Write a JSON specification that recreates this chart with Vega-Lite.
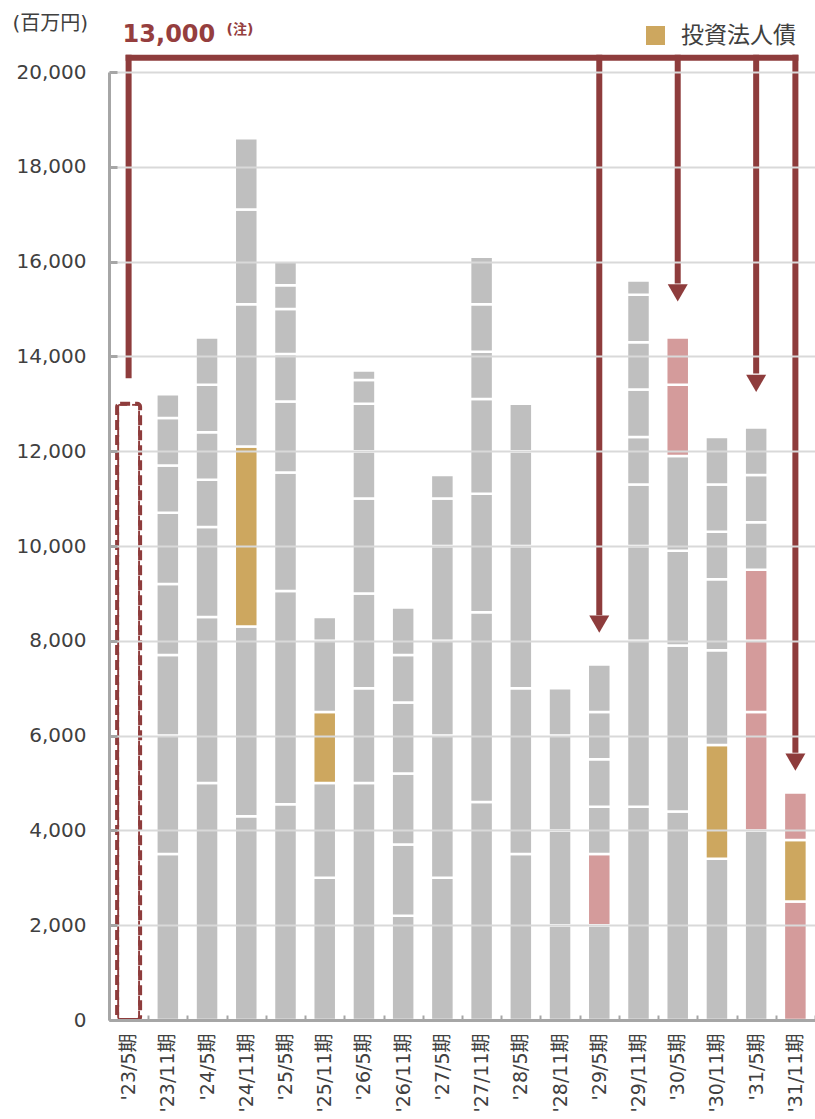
{
  "$schema": "https://vega.github.io/schema/vega-lite/v6.json",
  "width": 706,
  "height": 948,
  "autosize": {"type": "none"},
  "padding": {"left": 109, "top": 72, "right": 0, "bottom": 99},
  "background": "white",
  "config": {
    "view": {"stroke": null},
    "font": "DejaVu Sans, Noto Sans CJK JP"
  },
  "datasets": {
    "segments": [
      {"period": "'23/11期", "amount": 3500, "type": "借入金", "order": 1},
      {"period": "'23/11期", "amount": 2500, "type": "借入金", "order": 2},
      {"period": "'23/11期", "amount": 1700, "type": "借入金", "order": 3},
      {"period": "'23/11期", "amount": 1500, "type": "借入金", "order": 4},
      {"period": "'23/11期", "amount": 1500, "type": "借入金", "order": 5},
      {"period": "'23/11期", "amount": 1000, "type": "借入金", "order": 6},
      {"period": "'23/11期", "amount": 1000, "type": "借入金", "order": 7},
      {"period": "'23/11期", "amount": 500, "type": "借入金", "order": 8},
      {"period": "'24/5期", "amount": 5000, "type": "借入金", "order": 1},
      {"period": "'24/5期", "amount": 3500, "type": "借入金", "order": 2},
      {"period": "'24/5期", "amount": 1900, "type": "借入金", "order": 3},
      {"period": "'24/5期", "amount": 1000, "type": "借入金", "order": 4},
      {"period": "'24/5期", "amount": 1000, "type": "借入金", "order": 5},
      {"period": "'24/5期", "amount": 1000, "type": "借入金", "order": 6},
      {"period": "'24/5期", "amount": 1000, "type": "借入金", "order": 7},
      {"period": "'24/11期", "amount": 4300, "type": "借入金", "order": 1},
      {"period": "'24/11期", "amount": 4000, "type": "借入金", "order": 2},
      {"period": "'24/11期", "amount": 3800, "type": "投資法人債", "order": 3},
      {"period": "'24/11期", "amount": 3000, "type": "借入金", "order": 4},
      {"period": "'24/11期", "amount": 2000, "type": "借入金", "order": 5},
      {"period": "'24/11期", "amount": 1500, "type": "借入金", "order": 6},
      {"period": "'25/5期", "amount": 4550, "type": "借入金", "order": 1},
      {"period": "'25/5期", "amount": 4500, "type": "借入金", "order": 2},
      {"period": "'25/5期", "amount": 2500, "type": "借入金", "order": 3},
      {"period": "'25/5期", "amount": 1500, "type": "借入金", "order": 4},
      {"period": "'25/5期", "amount": 1000, "type": "借入金", "order": 5},
      {"period": "'25/5期", "amount": 950, "type": "借入金", "order": 6},
      {"period": "'25/5期", "amount": 500, "type": "借入金", "order": 7},
      {"period": "'25/5期", "amount": 500, "type": "借入金", "order": 8},
      {"period": "'25/11期", "amount": 3000, "type": "借入金", "order": 1},
      {"period": "'25/11期", "amount": 2000, "type": "借入金", "order": 2},
      {"period": "'25/11期", "amount": 1500, "type": "投資法人債", "order": 3},
      {"period": "'25/11期", "amount": 1500, "type": "借入金", "order": 4},
      {"period": "'25/11期", "amount": 500, "type": "借入金", "order": 5},
      {"period": "'26/5期", "amount": 5000, "type": "借入金", "order": 1},
      {"period": "'26/5期", "amount": 2000, "type": "借入金", "order": 2},
      {"period": "'26/5期", "amount": 2000, "type": "借入金", "order": 3},
      {"period": "'26/5期", "amount": 2000, "type": "借入金", "order": 4},
      {"period": "'26/5期", "amount": 1000, "type": "借入金", "order": 5},
      {"period": "'26/5期", "amount": 1000, "type": "借入金", "order": 6},
      {"period": "'26/5期", "amount": 500, "type": "借入金", "order": 7},
      {"period": "'26/5期", "amount": 200, "type": "借入金", "order": 8},
      {"period": "'26/11期", "amount": 2200, "type": "借入金", "order": 1},
      {"period": "'26/11期", "amount": 1500, "type": "借入金", "order": 2},
      {"period": "'26/11期", "amount": 1500, "type": "借入金", "order": 3},
      {"period": "'26/11期", "amount": 1500, "type": "借入金", "order": 4},
      {"period": "'26/11期", "amount": 1000, "type": "借入金", "order": 5},
      {"period": "'26/11期", "amount": 1000, "type": "借入金", "order": 6},
      {"period": "'27/5期", "amount": 3000, "type": "借入金", "order": 1},
      {"period": "'27/5期", "amount": 3000, "type": "借入金", "order": 2},
      {"period": "'27/5期", "amount": 2000, "type": "借入金", "order": 3},
      {"period": "'27/5期", "amount": 2000, "type": "借入金", "order": 4},
      {"period": "'27/5期", "amount": 1000, "type": "借入金", "order": 5},
      {"period": "'27/5期", "amount": 500, "type": "借入金", "order": 6},
      {"period": "'27/11期", "amount": 4600, "type": "借入金", "order": 1},
      {"period": "'27/11期", "amount": 4000, "type": "借入金", "order": 2},
      {"period": "'27/11期", "amount": 2500, "type": "借入金", "order": 3},
      {"period": "'27/11期", "amount": 2000, "type": "借入金", "order": 4},
      {"period": "'27/11期", "amount": 1000, "type": "借入金", "order": 5},
      {"period": "'27/11期", "amount": 1000, "type": "借入金", "order": 6},
      {"period": "'27/11期", "amount": 1000, "type": "借入金", "order": 7},
      {"period": "'28/5期", "amount": 3500, "type": "借入金", "order": 1},
      {"period": "'28/5期", "amount": 3500, "type": "借入金", "order": 2},
      {"period": "'28/5期", "amount": 3000, "type": "借入金", "order": 3},
      {"period": "'28/5期", "amount": 2000, "type": "借入金", "order": 4},
      {"period": "'28/5期", "amount": 1000, "type": "借入金", "order": 5},
      {"period": "'28/11期", "amount": 2000, "type": "借入金", "order": 1},
      {"period": "'28/11期", "amount": 2000, "type": "借入金", "order": 2},
      {"period": "'28/11期", "amount": 2000, "type": "借入金", "order": 3},
      {"period": "'28/11期", "amount": 1000, "type": "借入金", "order": 4},
      {"period": "'29/5期", "amount": 2000, "type": "借入金", "order": 1},
      {"period": "'29/5期", "amount": 1500, "type": "リファイナンス", "order": 2},
      {"period": "'29/5期", "amount": 1000, "type": "借入金", "order": 3},
      {"period": "'29/5期", "amount": 1000, "type": "借入金", "order": 4},
      {"period": "'29/5期", "amount": 1000, "type": "借入金", "order": 5},
      {"period": "'29/5期", "amount": 1000, "type": "借入金", "order": 6},
      {"period": "'29/11期", "amount": 4500, "type": "借入金", "order": 1},
      {"period": "'29/11期", "amount": 3500, "type": "借入金", "order": 2},
      {"period": "'29/11期", "amount": 2000, "type": "借入金", "order": 3},
      {"period": "'29/11期", "amount": 1300, "type": "借入金", "order": 4},
      {"period": "'29/11期", "amount": 1000, "type": "借入金", "order": 5},
      {"period": "'29/11期", "amount": 1000, "type": "借入金", "order": 6},
      {"period": "'29/11期", "amount": 1000, "type": "借入金", "order": 7},
      {"period": "'29/11期", "amount": 1000, "type": "借入金", "order": 8},
      {"period": "'29/11期", "amount": 300, "type": "借入金", "order": 9},
      {"period": "'30/5期", "amount": 4400, "type": "借入金", "order": 1},
      {"period": "'30/5期", "amount": 3500, "type": "借入金", "order": 2},
      {"period": "'30/5期", "amount": 2000, "type": "借入金", "order": 3},
      {"period": "'30/5期", "amount": 2000, "type": "借入金", "order": 4},
      {"period": "'30/5期", "amount": 1500, "type": "リファイナンス", "order": 5},
      {"period": "'30/5期", "amount": 1000, "type": "リファイナンス", "order": 6},
      {"period": "'30/11期", "amount": 3400, "type": "借入金", "order": 1},
      {"period": "'30/11期", "amount": 2400, "type": "投資法人債", "order": 2},
      {"period": "'30/11期", "amount": 2000, "type": "借入金", "order": 3},
      {"period": "'30/11期", "amount": 1500, "type": "借入金", "order": 4},
      {"period": "'30/11期", "amount": 1000, "type": "借入金", "order": 5},
      {"period": "'30/11期", "amount": 1000, "type": "借入金", "order": 6},
      {"period": "'30/11期", "amount": 1000, "type": "借入金", "order": 7},
      {"period": "'31/5期", "amount": 4000, "type": "借入金", "order": 1},
      {"period": "'31/5期", "amount": 2500, "type": "リファイナンス", "order": 2},
      {"period": "'31/5期", "amount": 1500, "type": "リファイナンス", "order": 3},
      {"period": "'31/5期", "amount": 1500, "type": "リファイナンス", "order": 4},
      {"period": "'31/5期", "amount": 1000, "type": "借入金", "order": 5},
      {"period": "'31/5期", "amount": 1000, "type": "借入金", "order": 6},
      {"period": "'31/5期", "amount": 1000, "type": "借入金", "order": 7},
      {"period": "'31/11期", "amount": 2500, "type": "リファイナンス", "order": 1},
      {"period": "'31/11期", "amount": 1300, "type": "投資法人債", "order": 2},
      {"period": "'31/11期", "amount": 1000, "type": "リファイナンス", "order": 3}
    ],
    "maturing": [
      {"period": "'23/5期", "amount": 13000}
    ],
    "arrowStems": [
      {"period": "'23/5期", "top": 20300, "end": 13600},
      {"period": "'29/5期", "top": 20300, "end": 8600},
      {"period": "'30/5期", "top": 20300, "end": 15600},
      {"period": "'31/5期", "top": 20300, "end": 13700},
      {"period": "'31/11期", "top": 20300, "end": 5700}
    ],
    "arrowBar": [
      {"period": "'23/5期", "period_end": "'31/11期", "top": 20300}
    ],
    "arrowHeads": [
      {"period": "'29/5期", "tip": 8350},
      {"period": "'30/5期", "tip": 15340},
      {"period": "'31/5期", "tip": 13430},
      {"period": "'31/11期", "tip": 5440}
    ],
    "note": [
      {"period": "'23/5期", "label": "13,000", "pos": 20780, "mark": "(注)", "markpos": 20890}
    ]
  },
  "layer": [
    {
      "data": {"name": "maturing"},
      "mark": {"type": "bar", "size": 23, "fill": "white", "stroke": "#8e3c3c", "strokeWidth": 4, "strokeDash": [10, 5], "cornerRadius": 3},
      "encoding": {
        "x": {"field": "period", "type": "nominal"},
        "y": {"field": "amount", "type": "quantitative"}
      }
    },
    {
      "data": {"name": "segments"},
      "mark": {"type": "bar", "size": 23, "stroke": "white", "strokeWidth": 2.5},
      "encoding": {
        "x": {
          "field": "period",
          "type": "nominal",
          "sort": null,
          "scale": {
            "domain": ["'23/5期", "'23/11期", "'24/5期", "'24/11期", "'25/5期", "'25/11期", "'26/5期", "'26/11期", "'27/5期", "'27/11期", "'28/5期", "'28/11期", "'29/5期", "'29/11期", "'30/5期", "'30/11期", "'31/5期", "'31/11期"],
            "paddingInner": 0,
            "paddingOuter": 0
          },
          "axis": {
            "title": null,
            "labelAngle": -90,
            "labelFontSize": 19,
            "labelColor": "#404040",
            "labelPadding": 18,
            "tickBand": "extent",
            "tickSize": -5,
            "tickWidth": 2,
            "tickColor": "#a6a6a6",
            "domainColor": "#a6a6a6",
            "domainWidth": 3,
            "zindex": 1
          }
        },
        "y": {
          "field": "amount",
          "type": "quantitative",
          "stack": "zero",
          "scale": {"domain": [0, 20000], "nice": false},
          "axis": {
            "title": "(百万円)",
            "titleAngle": 0,
            "titleX": -97,
            "titleY": -49,
            "titleAlign": "left",
            "titleBaseline": "middle",
            "titleFontSize": 20,
            "titleFontWeight": "normal",
            "titleColor": "#404040",
            "values": [0, 2000, 4000, 6000, 8000, 10000, 12000, 14000, 16000, 18000, 20000],
            "format": ",d",
            "labelFontSize": 20,
            "labelColor": "#404040",
            "labelPadding": 31,
            "tickSize": -8,
            "tickWidth": 3,
            "tickColor": "#a6a6a6",
            "domainColor": "#a6a6a6",
            "domainWidth": 3,
            "gridColor": "#d9d9d9",
            "gridWidth": 2,
            "zindex": 1
          }
        },
        "color": {
          "field": "type",
          "type": "nominal",
          "scale": {
            "domain": ["借入金", "投資法人債", "リファイナンス"],
            "range": ["#bfbfbf", "#cda75f", "#d49b9b"]
          },
          "legend": {
            "values": ["投資法人債"],
            "title": null,
            "orient": "none",
            "legendX": 535,
            "legendY": -48,
            "padding": 0,
            "symbolType": "square",
            "symbolSize": 361,
            "symbolStrokeWidth": 0,
            "labelFontSize": 23,
            "labelColor": "#404040",
            "labelOffset": 14
          }
        },
        "order": {"field": "order", "type": "quantitative"}
      }
    },
    {
      "data": {"name": "arrowStems"},
      "mark": {"type": "rule", "color": "#8e3c3c", "strokeWidth": 6, "strokeCap": "square"},
      "encoding": {
        "x": {"field": "period", "type": "nominal"},
        "y": {"field": "top", "type": "quantitative"},
        "y2": {"field": "end"}
      }
    },
    {
      "data": {"name": "arrowBar"},
      "mark": {"type": "rule", "color": "#8e3c3c", "strokeWidth": 6, "strokeCap": "square"},
      "encoding": {
        "x": {"field": "period", "type": "nominal"},
        "x2": {"field": "period_end"},
        "y": {"field": "top", "type": "quantitative"}
      }
    },
    {
      "data": {"name": "arrowHeads"},
      "mark": {"type": "point", "shape": "triangle-down", "filled": true, "size": 400, "color": "#8e3c3c", "opacity": 1},
      "encoding": {
        "x": {"field": "period", "type": "nominal"},
        "y": {"field": "tip", "type": "quantitative"}
      }
    },
    {
      "data": {"name": "note"},
      "mark": {"type": "text", "align": "left", "baseline": "middle", "dx": -6, "fontSize": 24, "fontWeight": "bold", "color": "#953e3e"},
      "encoding": {
        "x": {"field": "period", "type": "nominal"},
        "y": {"field": "pos", "type": "quantitative"},
        "text": {"field": "label"}
      }
    },
    {
      "data": {"name": "note"},
      "mark": {"type": "text", "align": "left", "baseline": "middle", "dx": 98, "fontSize": 14, "fontWeight": "bold", "color": "#953e3e"},
      "encoding": {
        "x": {"field": "period", "type": "nominal"},
        "y": {"field": "markpos", "type": "quantitative"},
        "text": {"field": "mark"}
      }
    }
  ]
}
